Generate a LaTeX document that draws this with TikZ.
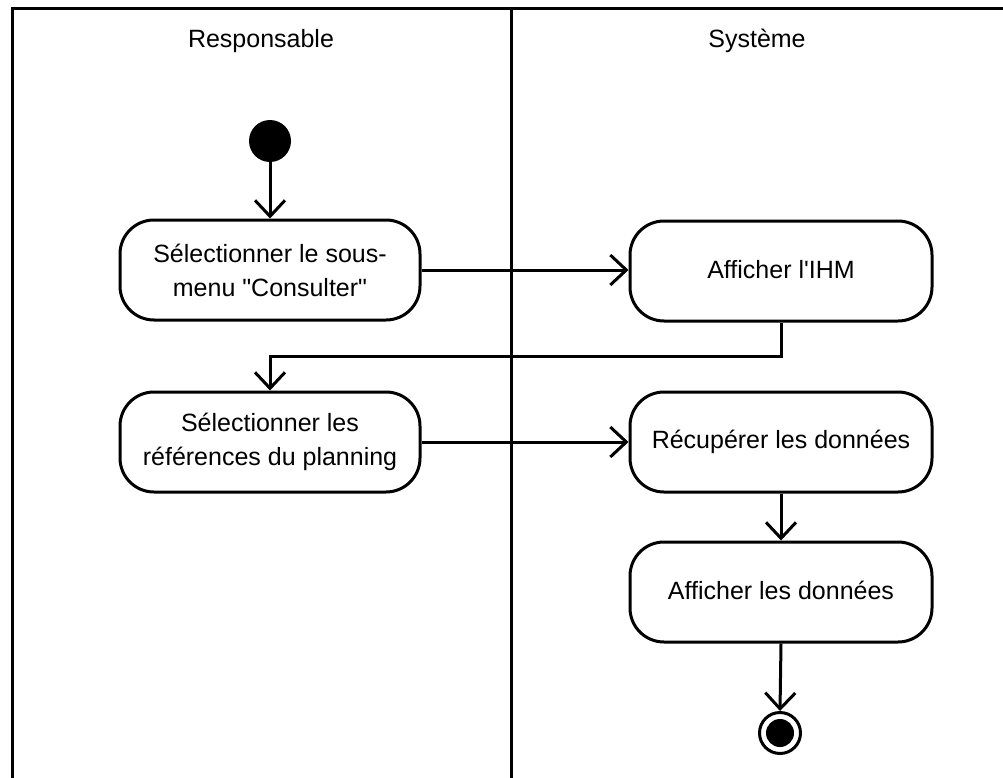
\documentclass[tikz,border=0pt]{standalone}
\usepackage{fontspec}
\setmainfont{Liberation Sans}[Ligatures=TeXOff]
\usetikzlibrary{arrows.meta}
\begin{document}
\begin{tikzpicture}[x=1pt,y=-1pt,
  every node/.style={font=\fontsize{25}{34}\selectfont},
  action/.style={draw, line width=3pt, rounded corners=34pt, minimum width=300pt, minimum height=100pt, inner sep=0pt, align=center},
  flow/.style={line width=3pt, -{Straight Barb[length=16pt,width=30pt,line width=3pt]}},
  lane/.style={line width=3pt}]
\useasboundingbox (0,0) rectangle (1003,778);
% swimlanes
\coordinate (tl) at (12,9);
\coordinate (tr) at (1003,9);
\coordinate (bl) at (12,778);
\coordinate (mt) at (511,9);
\coordinate (mb) at (511,778);
\draw[lane] (bl) -- (tl) -- (tr);
\draw[lane] (mt) -- (mb);
\node (t1) at (261,41) {Responsable};
\node (t2) at (757,41) {Système};
% nodes
\node[circle, fill=black, minimum size=42pt, inner sep=0pt] (start) at (270,141) {};
\node[action] (a1) at (270,270) {Sélectionner le sous-\\menu "Consulter"};
\node[action, minimum width=302pt] (a2) at (781,271) {\raisebox{4pt}{Afficher l'IHM}};
\node[action] (a3) at (270,442) {Sélectionner les\\références du planning};
\node[action, minimum width=302pt] (a4) at (781,442) {\raisebox{4pt}{Récupérer les données}};
\node[action, minimum width=302pt] (a5) at (781,592) {\raisebox{4pt}{Afficher les données}};
\node[circle, draw, line width=3pt, minimum size=41pt, inner sep=0pt] (stop) at (780,733) {};
\node[circle, fill=black, minimum size=28pt, inner sep=0pt] (stopin) at (stop.center) {};
% flows
\draw[flow] (start) -- (a1.north);
\draw[flow] (a1.east) -- (a1.east -| a2.west);
\draw[flow] (a2.south) -- ++(0,34) -| (a3.north);
\draw[flow] (a3.east) -- (a4.west);
\draw[flow] (a4.south) -- (a5.north);
\draw[flow] (a5.south) -- (stop.north);
\end{tikzpicture}
\end{document}
